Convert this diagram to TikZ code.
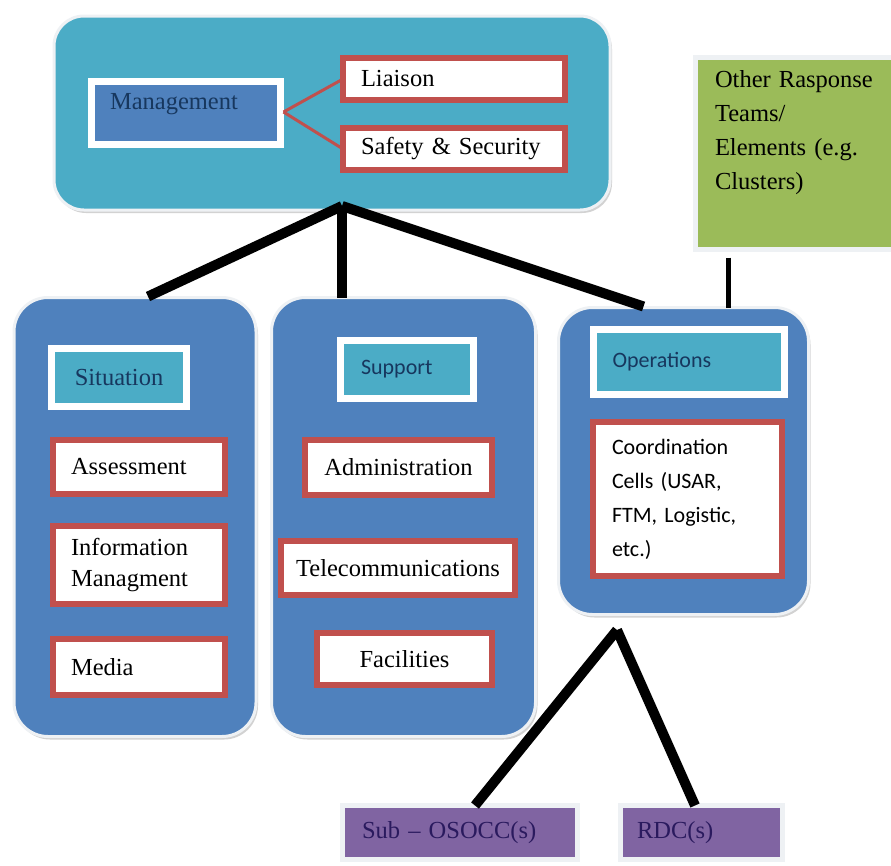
\documentclass[tikz,border=0pt]{standalone}
\usepackage{fontspec}
\setmainfont{Liberation Serif}
\newfontfamily\calfont{Carlito}
\usetikzlibrary{shadows,calc}
\definecolor{cAqua}{HTML}{4BACC6}
\definecolor{cBlue}{HTML}{4F81BD}
\definecolor{cRed}{HTML}{C0504D}
\definecolor{cGreen}{HTML}{9BBB59}
\definecolor{cPurple}{HTML}{8064A2}
\definecolor{cNavy}{HTML}{17375E}
\definecolor{cDeep}{HTML}{2A1A5E}
\definecolor{cRim}{HTML}{EEF1F4}
\tikzset{
  base/.style={rectangle, inner sep=0pt, outer sep=0pt},
  serif/.style={font=\fontsize{24.5}{31}\selectfont},
  sans/.style={font=\calfont\fontsize{22}{34}\selectfont},
  area/.style={base, fill=cBlue, draw=cRim, line width=3pt, rounded corners=34pt,
    drop shadow={opacity=0.35, shadow xshift=2pt, shadow yshift=-3pt}},
  toparea/.style={area, fill=cAqua, rounded corners=30pt},
  headbox/.style={base, fill=cAqua, draw=white, line width=7pt, text=cNavy,
    drop shadow={opacity=0.3, shadow xshift=2pt, shadow yshift=-2pt}},
  redbox/.style={base, fill=white, draw=cRed, line width=6pt, text=black, serif},
  greenbox/.style={base, fill=cGreen, draw=cRim, line width=5pt,
    drop shadow={opacity=0.3, shadow xshift=2pt, shadow yshift=-2pt}},
  purplebox/.style={base, fill=cPurple, draw=cRim, line width=5pt, text=cDeep, serif,
    drop shadow={opacity=0.25, shadow xshift=2pt, shadow yshift=-2pt}},
  lefttext/.style={text width=#1, align=left},
  linkline/.style={line width=10pt, black},
  thinlink/.style={line width=5pt, black},
  redlink/.style={line width=3pt, cRed},
}
\begin{document}
\begin{tikzpicture}[x=1pt, y=-1pt]
\useasboundingbox[fill=white] (0,0) rectangle (891,865);

% top management area
\node[toparea, minimum width=556, minimum height=194] (mgmtarea) at (332,113) {};
\node[headbox, fill=cBlue, minimum width=189, minimum height=63] (mgmt) at (186,113) {};
\node[base, serif, text=cNavy, anchor=west] (mgmtlabel) at (110,104) {Management};
\node[redbox, minimum width=222, minimum height=42, lefttext=186] (liaison) at (454,79) {Liaison};
\node[redbox, minimum width=222, minimum height=42, lefttext=186] (safety) at (454,149) {Safety \& Security};
\coordinate (mgmtfork) at ($(mgmt.east)+(3,-1)$);
\draw[redlink] (mgmtfork) -- (liaison.west);
\draw[redlink] (mgmtfork) -- (safety.west);

% other response teams
\node[greenbox, minimum width=209, minimum height=192] (other) at (800,153.5) {};
\node[base, anchor=north west, lefttext=175, font=\fontsize{24.5}{34}\selectfont] (otherlabel) at (715,70)
  {Other Rasponse\\Teams/\\Elements (e.g.\\Clusters)};

% three sections
\node[area, minimum width=242, minimum height=439] (situ) at (135,517) {};
\node[area, minimum width=264, minimum height=439] (supp) at (403.5,517) {};
\node[area, minimum width=250, minimum height=307] (ops) at (683.5,461) {};

% situation
\node[headbox, serif, minimum width=135, minimum height=58] (situhead) at (119,377.5) {Situation};
\node[redbox, minimum width=172, minimum height=54, lefttext=136] (assess) at (139,467) {Assessment};
\node[redbox, minimum width=172, minimum height=78, lefttext=136] (infoman) at (139,565) {Information\\Managment};
\node[redbox, minimum width=172, minimum height=56, lefttext=136] (media) at (139,667) {Media};

% support
\node[headbox, sans, minimum width=133, minimum height=58, lefttext=92] (supphead) at (407,369.5) {Support};
\node[redbox, minimum width=187, minimum height=55] (admin) at (398.5,467.5) {Administration};
\node[redbox, minimum width=234, minimum height=54] (telecom) at (398,568) {Telecommunications};
\node[redbox, minimum width=175, minimum height=52] (facil) at (404.5,659) {Facilities};

% operations
\node[headbox, sans, minimum width=191, minimum height=65, lefttext=153] (opshead) at (689,362) {Operations};
\node[redbox, sans, minimum width=189, minimum height=154, lefttext=151] (coord) at (687.5,499)
  {Coordination\\Cells (USAR,\\FTM, Logistic,\\etc.)};

% lower boxes
\node[purplebox, minimum width=235, minimum height=54, lefttext=196] (subosocc) at (460,832.5) {Sub -- OSOCC(s)};
\node[purplebox, minimum width=162, minimum height=54, lefttext=129] (rdc) at (701.5,832.5) {RDC(s)};

% connectors
\coordinate (topfork) at (342,206);
\draw[linkline] (topfork) -- ($(situ.north)+(13,-1)$);
\draw[linkline] (topfork) -- (topfork |- supp.north);
\draw[linkline] (topfork) -- ($(ops.north)+(-40,-1)$);
\draw[thinlink] (728,0 |- other.south) ++(0,8) -- (728,0 |- ops.north);
\coordinate (opsfork) at (617,630);
\draw[linkline] (opsfork) -- (475,0 |- subosocc.north);
\draw[linkline] (opsfork) -- (695,0 |- rdc.north);
\end{tikzpicture}
\end{document}
